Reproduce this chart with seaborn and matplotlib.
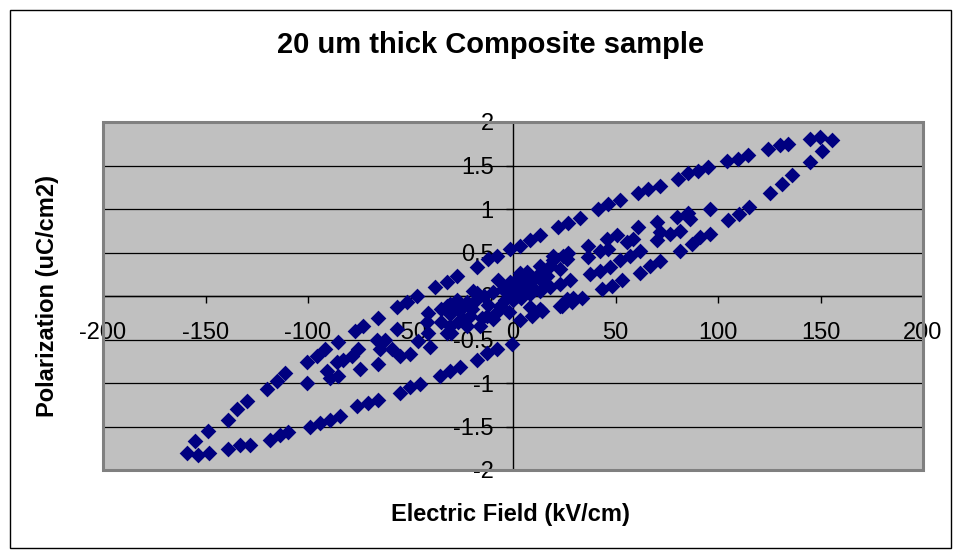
import numpy as np
import pandas as pd
import matplotlib
matplotlib.use("Agg")
import matplotlib.pyplot as plt
import seaborn as sns
from matplotlib.patches import Rectangle

# outer loop, rising branch (kV/cm, uC/cm2)
e_outer_up = [-159.2, -155.1, -148.6, -138.9, -134.8, -129.9, -120.1, -115.3, -111.2,
              -100.6, -95.8, -91.7, -85.2, -77.1, -73.0, -65.7, -56.7, -51.9, -47.0,
              -38.0, -32.3, -27.5, -17.7, -12.0, -8.0, -1.5, 3.4, 8.3, 13.2, 22.1, 27.0,
              32.7, 41.6, 46.5, 52.2, 61.1, 66.0, 71.7, 80.6, 85.5, 90.4, 95.3, 104.2,
              109.9, 114.8, 124.6, 130.2, 134.3, 144.9, 149.8, 155.4]
p_outer_up = [-1.80, -1.67, -1.55, -1.42, -1.30, -1.21, -1.07, -0.98, -0.88,
              -0.76, -0.69, -0.61, -0.53, -0.40, -0.34, -0.25, -0.13, -0.07, 0.00,
              0.10, 0.16, 0.23, 0.33, 0.42, 0.46, 0.54, 0.58, 0.64, 0.70, 0.79, 0.84,
              0.90, 1.00, 1.06, 1.10, 1.18, 1.23, 1.27, 1.35, 1.41, 1.44, 1.48, 1.55,
              1.58, 1.62, 1.69, 1.73, 1.75, 1.81, 1.83, 1.79]

# outer loop, falling branch
e_outer_down = [150.6, 144.9, 136.0, 131.0, 125.4, 115.0, 110.0, 105.0, 96.1, 91.2, 87.2,
                81.5, 71.7, 66.8, 62.0, 53.0, 48.1, 43.3, 33.5, 28.6, 23.8, 14.0, 9.1,
                3.4, -0.6, -8.0, -12.8, -17.7, -25.9, -30.7, -35.6, -45.4, -50.2, -55.1,
                -65.7, -70.6, -76.2, -84.4, -89.3, -94.1, -99.0, -109.6, -113.7, -118.5,
                -128.3, -133.2, -138.9, -148.1, -153.5]
p_outer_down = [1.67, 1.54, 1.39, 1.29, 1.18, 1.02, 0.94, 0.87, 0.71, 0.68, 0.60,
                0.52, 0.40, 0.35, 0.27, 0.18, 0.12, 0.08, -0.02, -0.07, -0.11, -0.17, -0.23,
                -0.28, -0.55, -0.61, -0.65, -0.73, -0.82, -0.86, -0.92, -1.01, -1.05, -1.11,
                -1.19, -1.23, -1.26, -1.38, -1.42, -1.46, -1.50, -1.56, -1.60, -1.65,
                -1.71, -1.71, -1.76, -1.81, -1.83]

# smaller loops and the dense core near the origin
e_inner = [-100.6, -90.9, -89.3, -85.2, -86.0, -82.8, -78.7, -75.4, -74.6, -66.5, -62.4,
           -64.9, -59.2, -65.7, -55.1, -50.2, -46.2, -56.7, -41.3, -42.1, -40.5, -41.3,
           -32.3, -27.5, -22.6, -30.7, -30.3, -24.2, -21.0, -17.7, -19.4, -7.2, -30.7,
           -30.7, -32.3, -22.6, -12.8, -6.3, -9.6, -16.0, 1.8, 8.3, 16.4, 22.9, 26.2,
           19.7, 13.2, 3.4, -1.5, 8.3, 13.2, 22.9, 26.2, 29.4,
           6.7, 19.7, 24.5, 27.0, 27.8, 22.9, 18.0, 13.2, 8.3, 36.7, 36.7, 42.4, 46.5,
           50.6, 45.7, 55.5, 61.1, 58.7, 62.0, 70.1, 71.7, 70.1, 79.8, 85.5, 86.3, 81.5,
           76.7, 96.1, 37.6, 42.4, 47.3, 52.2, 57.0,
           -35.0, -35.0, -27.0, -27.0, -20.0, -18.0, -15.0, -12.0, -10.0, -8.0, -5.0,
           -4.0, -2.0, 0.0, 0.0, 2.0, 4.0, 5.0, 7.0, 10.0, 11.0, 15.0, 15.0, 18.0,
           -24.0, -14.0, -3.0, 3.0]
p_inner = [-1.00, -0.86, -0.94, -0.92, -0.76, -0.73, -0.69, -0.61, -0.84, -0.50, -0.50,
           -0.61, -0.61, -0.78, -0.69, -0.67, -0.52, -0.38, -0.19, -0.30, -0.59, -0.42,
           -0.11, -0.05, -0.07, -0.34, -0.42, -0.27, -0.23, 0.04, 0.06, 0.18, -0.09,
           -0.21, -0.42, -0.34, -0.23, -0.11, -0.27, -0.34, 0.00, 0.12, 0.23, 0.31, 0.43,
           0.46, 0.35, 0.27, 0.16, -0.13, -0.15, -0.11, -0.03, -0.02,
           0.20, 0.41, 0.46, 0.50, 0.18, 0.14, 0.10, 0.06, 0.02, 0.58, 0.45, 0.52, 0.54,
           0.70, 0.66, 0.62, 0.79, 0.66, 0.52, 0.85, 0.73, 0.64, 0.91, 0.95, 0.88, 0.75,
           0.71, 1.00, 0.25, 0.29, 0.33, 0.41, 0.46,
           -0.15, -0.30, -0.15, -0.30, -0.15, -0.05, -0.25, -0.10, 0.05, -0.18, 0.08,
           -0.05, -0.18, 0.10, -0.05, 0.20, -0.02, 0.12, 0.28, 0.08, 0.22, 0.15, 0.30, 0.35,
           -0.12, 0.00, 0.03, 0.05]

df = pd.DataFrame({
    "field": e_outer_up + e_outer_down + e_inner,
    "pol": p_outer_up + p_outer_down + p_inner,
})

plt.rcParams["font.family"] = ["Liberation Sans", "DejaVu Sans"]
plt.rcParams["axes.unicode_minus"] = False

fig = plt.figure(figsize=(9.61, 5.54), dpi=100)
ax = fig.add_axes([103 / 961, 1 - 470 / 554, 820 / 961, 348 / 554])
ax.set_facecolor("#C0C0C0")

sns.scatterplot(data=df, x="field", y="pol", marker="D", color="#000080",
                s=64, linewidth=0, ax=ax, zorder=3)

ax.set_xlim(-200, 200)
ax.set_ylim(-2, 2)
ax.set_xticks(np.arange(-200, 201, 50))
ax.set_yticks(np.arange(-2, 2.01, 0.5))
ax.set_yticklabels(["-2", "-1.5", "-1", "-0.5", "0", "0.5", "1", "1.5", "2"])
ax.yaxis.grid(True, color="black", linewidth=0.9)
ax.xaxis.grid(False)
ax.set_axisbelow(True)

# axes cross at the origin like the spreadsheet chart
ax.spines["left"].set_position(("data", 0))
ax.spines["bottom"].set_position(("data", 0))
for side in ["left", "bottom"]:
    ax.spines[side].set_color("black")
    ax.spines[side].set_linewidth(1)
    ax.spines[side].set_zorder(2)
ax.spines["top"].set_visible(False)
ax.spines["right"].set_visible(False)
ax.add_patch(Rectangle((0, 0), 1, 1, transform=ax.transAxes, fill=False,
                       edgecolor="#808080", linewidth=2.2, clip_on=False, zorder=4))

ax.tick_params(axis="x", direction="out", length=5, width=1, pad=14, labelsize=17)
ax.tick_params(axis="y", direction="out", length=5, width=1, pad=9, labelsize=17)
ax.set_xlabel("")
ax.set_ylabel("")

fig.text(491 / 961, 1 - 45 / 554, "20 um thick Composite sample", ha="center",
         va="center", fontsize=21, fontweight="bold")
fig.text(510 / 961, 1 - 515 / 554, "Electric Field (kV/cm)", ha="center",
         va="center", fontsize=17, fontweight="bold")
fig.text(48 / 961, 1 - 296 / 554, "Polarization (uC/cm2)", ha="center",
         va="center", rotation=90, fontsize=17, fontweight="bold")

fig.add_artist(Rectangle((10 / 961, 6 / 554), 941 / 961, 538 / 554,
                         transform=fig.transFigure, fill=False,
                         edgecolor="black", linewidth=1))

fig.savefig("out.png", dpi=100)
